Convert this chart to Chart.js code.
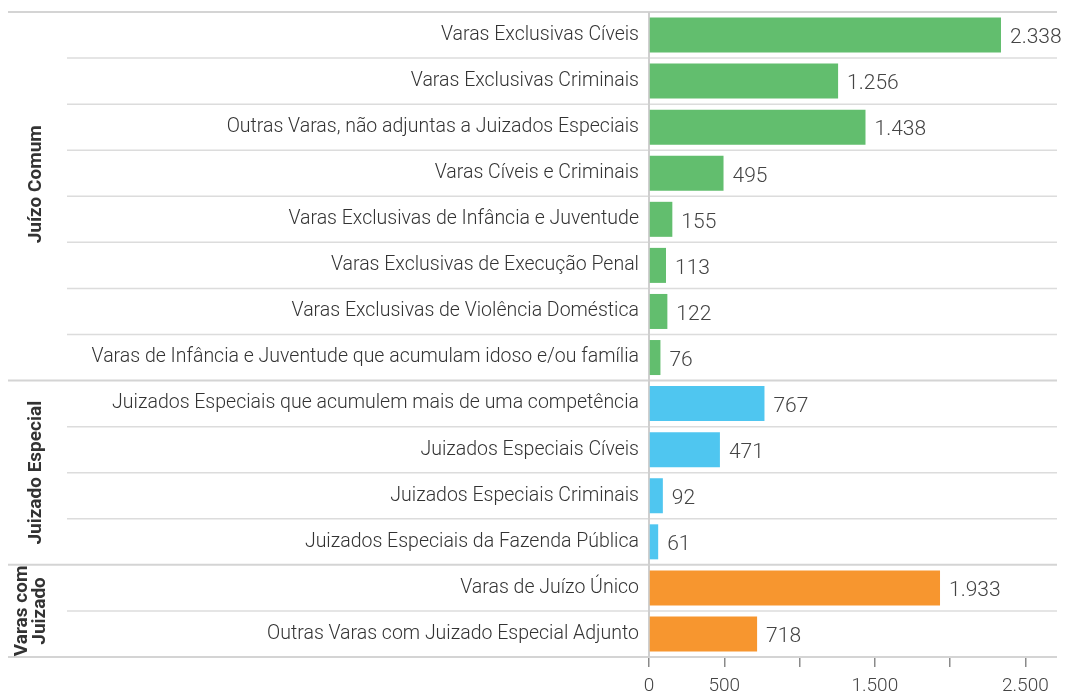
<!DOCTYPE html>
<html>
<head>
<meta charset="utf-8">
<script src="https://cdn.jsdelivr.net/npm/chart.js@4"></script>
<style>
  html, body { margin: 0; padding: 0; background: #fff; }
  #wrap { width: 1065px; height: 694px; }
</style>
</head>
<body>
<div id="wrap"><canvas id="unitsChart"></canvas></div>
<script>
const categories = [
    'Varas Exclusivas Cíveis',
    'Varas Exclusivas Criminais',
    'Outras Varas, não adjuntas a Juizados Especiais',
    'Varas Cíveis e Criminais',
    'Varas Exclusivas de Infância e Juventude',
    'Varas Exclusivas de Execução Penal',
    'Varas Exclusivas de Violência Doméstica',
    'Varas de Infância e Juventude que acumulam idoso e/ou família',
    'Juizados Especiais que acumulem mais de uma competência',
    'Juizados Especiais Cíveis',
    'Juizados Especiais Criminais',
    'Juizados Especiais da Fazenda Pública',
    'Varas de Juízo Único',
    'Outras Varas com Juizado Especial Adjunto'
];
const values = [2338, 1256, 1438, 495, 155, 113, 122, 76, 767, 471, 92, 61, 1933, 718];
const groupNames = [['Juízo Comum'], ['Juizado Especial'], ['Varas com', 'Juizado']];
const groupSizes = [8, 4, 2];
const groupColors = ['#62be6e', '#4fc6f0', '#f7962f'];
const xTickLabels = { 0: '0', 500: '500', 1500: '1.500', 2500: '2.500' };

const fontFamily = 'Roboto, "Liberation Sans", sans-serif';
// the first group title sits a bit above its band's middle in the original
const groupLabelShift = [-12, 0, 0];

function fmt(n) {
    return String(n).replace(/\B(?=(\d{3})+(?!\d))/g, '.');
}

// one colour per bar, taken from its group
const barColors = [];
groupSizes.forEach((size, g) => {
    for (let i = 0; i < size; i++) barColors.push(groupColors[g]);
});

const groupPlugin = {
    id: 'groupPlugin',
    beforeDatasetsDraw(chart) {
        const ctx = chart.ctx;
        const y = chart.scales.y;
        const area = chart.chartArea;
        const rowH = (area.bottom - area.top) / categories.length;
        const groupStarts = [0];
        groupSizes.forEach((s, i) => groupStarts.push(groupStarts[i] + s));
        ctx.save();
        // row separators
        for (let i = 0; i <= categories.length; i++) {
            const py = i < categories.length ? y.getPixelForValue(i) - rowH / 2 : y.getPixelForValue(i - 1) + rowH / 2;
            const isGroup = groupStarts.includes(i);
            ctx.strokeStyle = isGroup ? '#d4d4d4' : '#dcdcdc';
            ctx.lineWidth = isGroup ? 2 : 1.5;
            ctx.beginPath();
            ctx.moveTo(isGroup ? 8 : 67, py);
            ctx.lineTo(area.right, py);
            ctx.stroke();
        }
        // zero line
        const x0 = chart.scales.x.getPixelForValue(0);
        ctx.strokeStyle = '#cfcfcf';
        ctx.lineWidth = 2;
        ctx.beginPath();
        ctx.moveTo(x0, area.top);
        ctx.lineTo(x0, area.bottom);
        ctx.stroke();
        ctx.restore();
    },
    afterDatasetsDraw(chart) {
        const ctx = chart.ctx;
        const meta = chart.getDatasetMeta(0);
        ctx.save();
        ctx.font = '300 21px ' + fontFamily;
        ctx.fillStyle = '#444';
        ctx.textAlign = 'left';
        ctx.textBaseline = 'middle';
        meta.data.forEach((bar, i) => {
            ctx.fillText(fmt(values[i]), bar.x + 9, bar.y + 3);
        });
        ctx.restore();
    },
    afterDraw(chart) {
        const ctx = chart.ctx;
        const y = chart.scales.y;
        const area = chart.chartArea;
        const rowH = (area.bottom - area.top) / categories.length;
        ctx.save();
        ctx.font = 'bold 19px ' + fontFamily;
        ctx.fillStyle = '#333';
        ctx.textAlign = 'center';
        ctx.textBaseline = 'middle';
        let start = 0;
        groupSizes.forEach((size, g) => {
            const top = y.getPixelForValue(start) - rowH / 2;
            const bottom = y.getPixelForValue(start + size - 1) + rowH / 2;
            const cy = (top + bottom) / 2 + groupLabelShift[g];
            const lines = groupNames[g];
            ctx.save();
            ctx.translate(lines.length > 1 ? 31 : 36, cy);
            ctx.rotate(-Math.PI / 2);
            lines.forEach((line, k) => {
                ctx.fillText(line, 0, (k - (lines.length - 1) / 2) * 18);
            });
            ctx.restore();
            start += size;
        });
        ctx.restore();
    }
};

new Chart(document.getElementById('unitsChart'), {
    type: 'bar',
    data: {
        labels: categories,
        datasets: [{
            data: values,
            backgroundColor: barColors,
            borderWidth: 0,
            barPercentage: 0.76,
            categoryPercentage: 1
        }]
    },
    options: {
        indexAxis: 'y',
        responsive: true,
        maintainAspectRatio: false,
        animation: false,
        layout: {
            padding: { top: 12, right: 8, left: 0, bottom: 0 }
        },
        plugins: {
            legend: { display: false },
            tooltip: { enabled: false }
        },
        scales: {
            x: {
                min: 0,
                max: 2710,
                afterFit(scale) {
                    scale.height = 37;
                    scale.paddingLeft = 0;
                    scale.paddingRight = 0;
                },
                afterBuildTicks(scale) {
                    scale.ticks = [0, 500, 1000, 1500, 2000, 2500].map(v => ({ value: v }));
                },
                ticks: {
                    padding: 8,
                    color: '#444',
                    font: { family: fontFamily, size: 19, weight: '300' },
                    maxRotation: 0,
                    autoSkip: false,
                    callback: (v) => xTickLabels[v] || ''
                },
                grid: {
                    drawOnChartArea: false,
                    drawTicks: true,
                    tickLength: 10,
                    color: '#8a8a8a',
                    lineWidth: 1.5
                },
                border: { display: false }
            },
            y: {
                afterFit(scale) {
                    scale.width = 649;
                    scale.paddingTop = 0;
                    scale.paddingBottom = 0;
                },
                ticks: {
                    padding: 10,
                    color: '#333',
                    font: { family: fontFamily, size: 19.5, weight: '300' },
                    autoSkip: false
                },
                grid: { display: false, drawTicks: false },
                border: { display: false }
            }
        }
    },
    plugins: [groupPlugin]
});
</script>
</body>
</html>
